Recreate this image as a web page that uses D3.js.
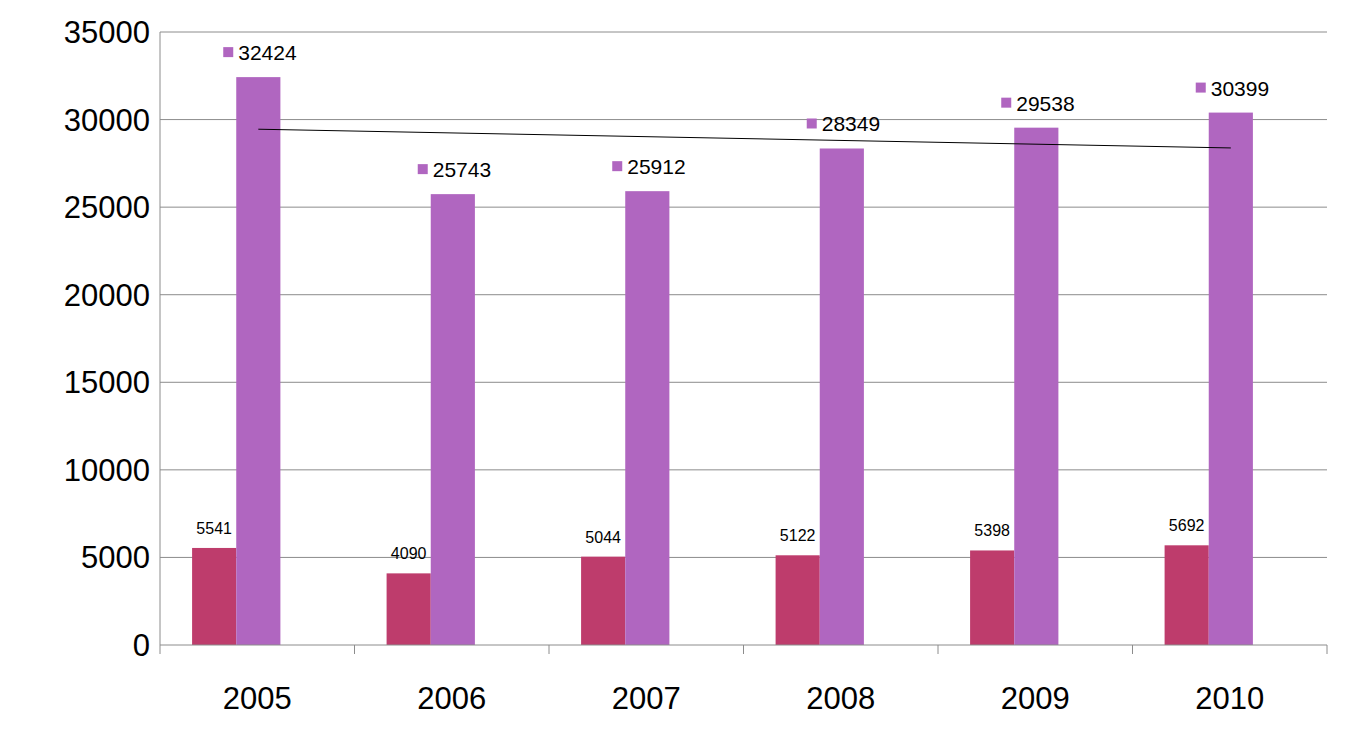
<!DOCTYPE html>
<html><head><meta charset="utf-8">
<script src="https://cdn.jsdelivr.net/npm/d3@7"></script>
<style>body{margin:0;background:#fff}</style></head>
<body><svg id="c" width="1350" height="742"></svg>
<script>
const years = ["2005","2006","2007","2008","2009","2010"];
const seriesA = [5541,4090,5044,5122,5398,5692];
const seriesB = [32424,25743,25912,28349,29538,30399];
const trendLine = [29450,28380];
const yTicks = [0,5000,10000,15000,20000,25000,30000,35000];

const svg = d3.select("#c");
const L=160,R=1327,T=32,B=645;
const x = d3.scaleBand().domain(years).range([L,R]);
const y = d3.scaleLinear().domain([0,35000]).range([B,T]);
const bw = x.bandwidth()*0.227;
const off = x.bandwidth()*0.165;
const font="Liberation Sans, Arial, sans-serif";

svg.append("g").selectAll("line").data(yTicks.slice(1)).join("line")
 .attr("x1",L).attr("x2",R).attr("y1",d=>y(d)).attr("y2",d=>y(d))
 .attr("stroke","#8c8c8c").attr("stroke-width",1);
svg.append("g").selectAll("text").data(yTicks).join("text")
 .attr("x",150).attr("y",d=>y(d)+11).attr("text-anchor","end")
 .attr("font-family",font).attr("font-size",31).text(d=>d);

const g = svg.append("g");
g.selectAll(".a").data(years).join("rect")
 .attr("x",d=>x(d)+off).attr("width",bw)
 .attr("y",(d,i)=>y(seriesA[i])).attr("height",(d,i)=>B-y(seriesA[i]))
 .attr("fill","#be3c6c");
g.selectAll(".b").data(years).join("rect")
 .attr("x",d=>x(d)+off+bw).attr("width",bw)
 .attr("y",(d,i)=>y(seriesB[i])).attr("height",(d,i)=>B-y(seriesB[i]))
 .attr("fill","#b066c0");

g.selectAll(".la").data(years).join("text")
 .attr("x",d=>x(d)+off+bw/2).attr("y",(d,i)=>y(seriesA[i])-14)
 .attr("text-anchor","middle").attr("font-family",font).attr("font-size",16)
 .text((d,i)=>seriesA[i]);
g.selectAll(".sq").data(years).join("rect")
 .attr("x",d=>x(d)+off+bw-13).attr("y",(d,i)=>y(seriesB[i])-30)
 .attr("width",10).attr("height",10).attr("fill","#b066c0");
g.selectAll(".lb").data(years).join("text")
 .attr("x",d=>x(d)+off+bw+2).attr("y",(d,i)=>y(seriesB[i])-17)
 .attr("font-family",font).attr("font-size",21)
 .text((d,i)=>seriesB[i]);

svg.append("line")
 .attr("x1",x(years[0])+off+bw*1.5).attr("x2",x(years[5])+off+bw*1.5)
 .attr("y1",y(trendLine[0])).attr("y2",y(trendLine[1]))
 .attr("stroke","#000").attr("stroke-width",1);

svg.append("line").attr("x1",L).attr("x2",L).attr("y1",T).attr("y2",B).attr("stroke","#8c8c8c");
svg.append("line").attr("x1",L).attr("x2",R).attr("y1",B).attr("y2",B).attr("stroke","#8c8c8c");
const bounds = years.map(d=>x(d)).concat([R]);
svg.append("g").selectAll("line").data(bounds).join("line")
 .attr("x1",d=>d).attr("x2",d=>d).attr("y1",B).attr("y2",B+9).attr("stroke","#8c8c8c");
svg.append("g").selectAll("text").data(years).join("text")
 .attr("x",d=>x(d)+x.bandwidth()/2).attr("y",709).attr("text-anchor","middle")
 .attr("font-family",font).attr("font-size",31).text(d=>d);
</script></body></html>
